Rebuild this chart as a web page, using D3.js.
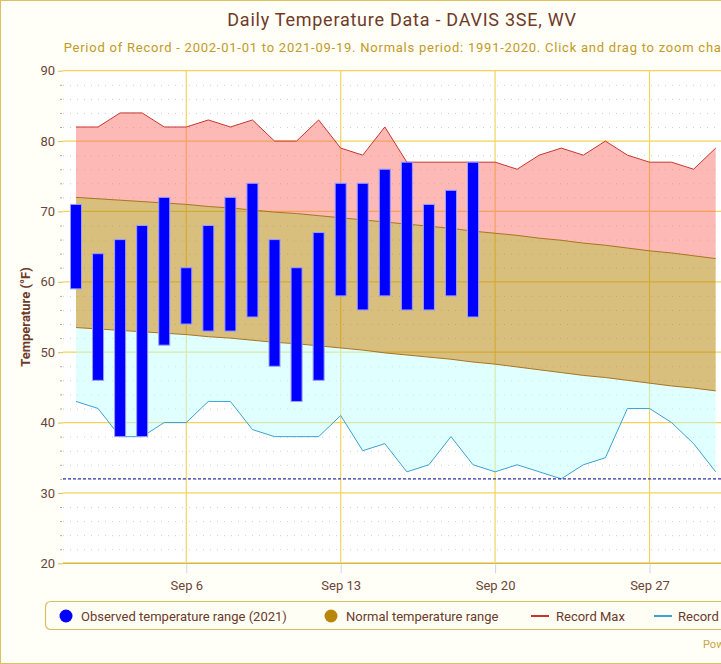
<!DOCTYPE html>
<html>
<head>
<meta charset="utf-8">
<script src="https://cdn.jsdelivr.net/npm/d3@7"></script>
<style>
  html, body { margin: 0; padding: 0; background: #ffffff; overflow: hidden; }
  svg { display: block; font-family: Roboto, "Noto Sans", sans-serif; }
</style>
</head>
<body>
<div id="chart"></div>
<script>
// Daten
const dates = ["2021-09-01","2021-09-02","2021-09-03","2021-09-04","2021-09-05","2021-09-06","2021-09-07","2021-09-08","2021-09-09","2021-09-10",
               "2021-09-11","2021-09-12","2021-09-13","2021-09-14","2021-09-15","2021-09-16","2021-09-17","2021-09-18","2021-09-19","2021-09-20",
               "2021-09-21","2021-09-22","2021-09-23","2021-09-24","2021-09-25","2021-09-26","2021-09-27","2021-09-28","2021-09-29","2021-09-30"];
const obsHigh = [71, 64, 66, 68, 72, 62, 68, 72, 74, 66, 62, 67, 74, 74, 76, 77, 71, 73, 77];
const obsLow  = [59, 46, 38, 38, 51, 54, 53, 53, 55, 48, 43, 46, 58, 56, 58, 56, 56, 58, 55];
const normHigh = [72.0, 71.8, 71.6, 71.4, 71.2, 71.0, 70.7, 70.5, 70.2, 69.9, 69.7, 69.4, 69.1, 68.8, 68.5,
                  68.2, 67.9, 67.6, 67.2, 66.9, 66.6, 66.2, 65.9, 65.5, 65.2, 64.8, 64.4, 64.1, 63.7, 63.3];
const normLow  = [53.5, 53.3, 53.1, 52.9, 52.7, 52.5, 52.2, 52.0, 51.7, 51.4, 51.2, 50.9, 50.6, 50.3, 49.9,
                  49.6, 49.3, 49.0, 48.6, 48.3, 47.9, 47.5, 47.1, 46.7, 46.4, 46.0, 45.6, 45.2, 44.9, 44.5];
const recMax = [82, 82, 84, 84, 82, 82, 83, 82, 83, 80, 80, 83, 79, 78, 82, 77, 77, 77, 77, 77, 76, 78, 79, 78, 80, 78, 77, 77, 76, 79];
const recMin = [43, 42, 38, 38, 40, 40, 43, 43, 39, 38, 38, 38, 41, 36, 37, 33, 34, 38, 34, 33, 34, 33, 32, 34, 35, 42, 42, 40, 37, 33];
const freezing = 32;
const yTicks = [20, 30, 40, 50, 60, 70, 80, 90];
const yMinorTicks = [22, 24, 26, 28, 32, 34, 36, 38, 42, 44, 46, 48, 52, 54, 56, 58, 62, 64, 66, 68, 72, 74, 76, 78, 82, 84, 86, 88];
const xTickDates = ["2021-09-06", "2021-09-13", "2021-09-20", "2021-09-27"];
const legendItems = ["Observed temperature range (2021)", "Normal temperature range", "Record Max", "Record Min"];

// --- Grundmaße ---
const width = 804, height = 664;
const plot = { left: 63, right: 794, top: 70.7, bottom: 563.3 };

const parse = d3.utcParse("%Y-%m-%d");
const days = dates.map(parse);

const x = d3.scaleUtc()
  .domain([Date.UTC(2021, 7, 31, 9, 52), Date.UTC(2021, 9, 3, 13, 13)])
  .range([plot.left, plot.right]);
const y = d3.scaleLinear().domain([20, 90]).range([plot.bottom, plot.top]);

const svg = d3.select("#chart").append("svg")
  .attr("width", width).attr("height", height);

// Hintergrund + Rahmen
svg.append("rect")
  .attr("x", 0.5).attr("y", 0.5).attr("width", width - 1).attr("height", height - 1)
  .attr("fill", "#fffef7").attr("stroke", "#dcc060").attr("stroke-width", 1);
svg.append("rect")
  .attr("x", plot.left).attr("y", plot.top)
  .attr("width", plot.right - plot.left).attr("height", plot.bottom - plot.top)
  .attr("fill", "#ffffff");

// Titel
svg.append("text")
  .attr("x", 402).attr("y", 26).attr("text-anchor", "middle")
  .attr("font-size", 18).attr("letter-spacing", 0.75).attr("fill", "#6e3b28")
  .text("Daily Temperature Data - DAVIS 3SE, WV");
svg.append("text")
  .attr("x", 400).attr("y", 52).attr("text-anchor", "middle")
  .attr("font-size", 13).attr("letter-spacing", 0.76).attr("fill", "#c29a26")
  .text("Period of Record - 2002-01-01 to 2021-09-19. Normals period: 1991-2020. Click and drag to zoom chart.");

// --- Gitter ---
const grid = svg.append("g");
grid.selectAll("line.minor")
  .data(yMinorTicks).enter().append("line")
  .attr("x1", plot.left).attr("x2", plot.right)
  .attr("y1", d => y(d) + 0.5).attr("y2", d => y(d) + 0.5)
  .attr("stroke", "#cfcfcf").attr("stroke-width", 1).attr("stroke-dasharray", "1,6");
grid.selectAll("line.major")
  .data(yTicks).enter().append("line")
  .attr("x1", plot.left).attr("x2", plot.right)
  .attr("y1", d => y(d)).attr("y2", d => y(d))
  .attr("stroke", d => d === 20 ? "#dcb83a" : "#f2d45c").attr("stroke-width", d => d === 20 ? 1.5 : 1.2);
grid.selectAll("line.vert")
  .data(xTickDates.map(parse)).enter().append("line")
  .attr("x1", d => x(d)).attr("x2", d => x(d))
  .attr("y1", plot.top).attr("y2", plot.bottom)
  .attr("stroke", "#f2d45c").attr("stroke-width", 1.2);

// --- Flächen ---
const idx = d3.range(dates.length);
const area = (top, bot) => d3.area()
  .x(i => x(days[i]))
  .y0(i => y(bot[i]))
  .y1(i => y(top[i]));
const line = vals => d3.line().x(i => x(days[i])).y(i => y(vals[i]));

svg.append("path").datum(idx)
  .attr("d", area(recMax, normHigh))
  .attr("fill", "rgb(250,100,90)").attr("fill-opacity", 0.45);
svg.append("path").datum(idx)
  .attr("d", area(normHigh, normLow))
  .attr("fill", "rgb(184,134,11)").attr("fill-opacity", 0.53);
svg.append("path").datum(idx)
  .attr("d", area(normLow, recMin))
  .attr("fill", "rgb(190,255,255)").attr("fill-opacity", 0.48);

svg.append("path").datum(idx).attr("d", line(normHigh))
  .attr("fill", "none").attr("stroke", "#a8741e").attr("stroke-width", 1);
svg.append("path").datum(idx).attr("d", line(normLow))
  .attr("fill", "none").attr("stroke", "#a8741e").attr("stroke-width", 1);
svg.append("path").datum(idx).attr("d", line(recMax))
  .attr("fill", "none").attr("stroke", "#c8362e").attr("stroke-width", 1);
svg.append("path").datum(idx).attr("d", line(recMin))
  .attr("fill", "none").attr("stroke", "#3aa2d2").attr("stroke-width", 1);

// Frostlinie
svg.append("line")
  .attr("x1", plot.left).attr("x2", plot.right)
  .attr("y1", y(freezing)).attr("y2", y(freezing))
  .attr("stroke", "#3030a8").attr("stroke-width", 1.2).attr("stroke-dasharray", "3,2");

// --- Beobachtete Balken ---
const barW = 11;
svg.append("g").selectAll("rect")
  .data(obsHigh.map((h, i) => ({ d: days[i], hi: h, lo: obsLow[i] })))
  .enter().append("rect")
  .attr("x", d => x(d.d) - barW / 2)
  .attr("y", d => y(d.hi))
  .attr("width", barW)
  .attr("height", d => y(d.lo) - y(d.hi))
  .attr("fill", "#0000ff")
  .attr("stroke", "#9c9cff").attr("stroke-width", 1);

// --- Achsen ---
const yAxis = svg.append("g").attr("transform", `translate(${plot.left},0)`)
  .call(d3.axisLeft(y).tickValues(yTicks).tickSize(5).tickPadding(3).tickFormat(d3.format("d")));
yAxis.select(".domain").remove();
yAxis.selectAll(".tick line").attr("stroke", "#e0c050");
yAxis.selectAll(".tick text").attr("font-size", 13).attr("fill", "#6b4636").attr("font-family", "Roboto");
svg.append("g").selectAll("line")
  .data(yMinorTicks).enter().append("line")
  .attr("x1", plot.left - 3).attr("x2", plot.left - 1)
  .attr("y1", d => y(d) + 0.5).attr("y2", d => y(d) + 0.5)
  .attr("stroke", "#aaaaaa");

const xAxis = svg.append("g").attr("transform", `translate(0,${plot.bottom})`)
  .call(d3.axisBottom(x).tickValues(xTickDates.map(parse)).tickSize(10).tickPadding(7)
    .tickFormat(d3.utcFormat("%b %-d")));
xAxis.select(".domain").remove();
xAxis.selectAll(".tick line").attr("stroke", "#ccd6eb").attr("y1", 1);
xAxis.selectAll(".tick text").attr("font-size", 13).attr("fill", "#6b4636").attr("font-family", "Roboto");

svg.append("text")
  .attr("transform", `translate(30,${(plot.top + plot.bottom) / 2}) rotate(-90)`)
  .attr("text-anchor", "middle").attr("font-size", 13).attr("font-weight", "bold")
  .attr("fill", "#6e3b28")
  .text("Temperature (°F)");

// --- Legende ---
const lg = svg.append("g");
lg.append("rect")
  .attr("x", 45.5).attr("y", 601.5).attr("width", 713).attr("height", 28)
  .attr("rx", 5).attr("fill", "#fffef5").attr("stroke", "#d8bf62").attr("stroke-width", 1.2);
const lgX = [66, 331, 540, 663];
const lgTextX = [81, 346, 556, 678];
lg.append("circle").attr("cx", lgX[0]).attr("cy", 616).attr("r", 6.5).attr("fill", "#0000ff");
lg.append("circle").attr("cx", lgX[1]).attr("cy", 616).attr("r", 6.5).attr("fill", "#b8860b");
lg.append("line").attr("x1", lgX[2] - 9).attr("x2", lgX[2] + 9).attr("y1", 616).attr("y2", 616)
  .attr("stroke", "#c8362e").attr("stroke-width", 2);
lg.append("line").attr("x1", lgX[3] - 9).attr("x2", lgX[3] + 9).attr("y1", 616).attr("y2", 616)
  .attr("stroke", "#3aa2d2").attr("stroke-width", 2);
lg.selectAll("text.item").data(legendItems).enter().append("text")
  .attr("x", (d, i) => lgTextX[i]).attr("y", 621)
  .attr("font-size", 13).attr("fill", "#6b3a2a")
  .text(d => d);

// Quellenangabe
svg.append("text")
  .attr("x", 703).attr("y", 648).attr("font-size", 11).attr("fill", "#c8a640")
  .text("Powered by ACIS");
</script>
</body>
</html>
